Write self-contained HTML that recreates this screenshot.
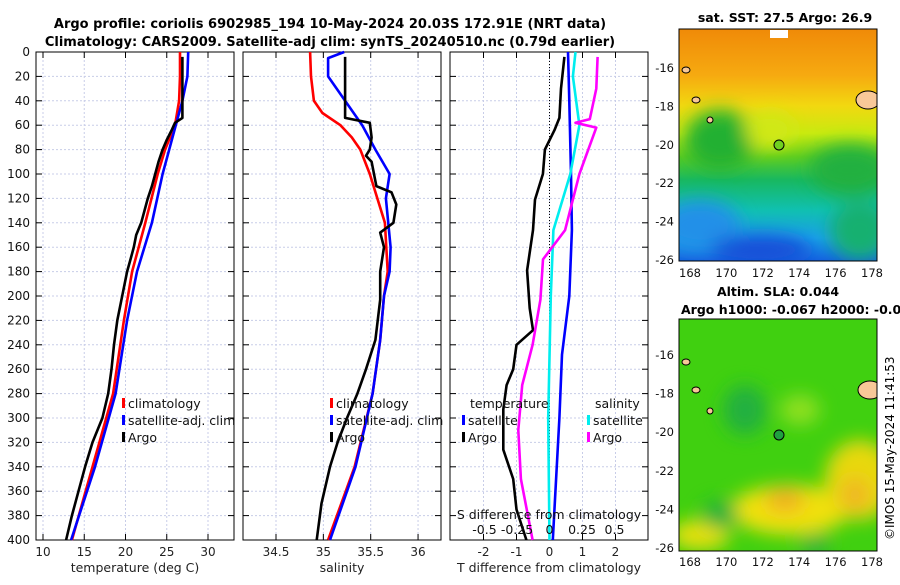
<!DOCTYPE html>
<html><head><meta charset="utf-8"><style>
body{margin:0;background:#fff;width:900px;height:580px;overflow:hidden}
svg{font-family:"DejaVu Sans","Liberation Sans",sans-serif}
</style></head><body>
<svg id="c" width="900" height="580" xmlns="http://www.w3.org/2000/svg">
<defs>
<filter id="bl" x="-50%" y="-50%" width="200%" height="200%"><feGaussianBlur stdDeviation="9"/></filter>
<clipPath id="m1c"><rect x="679" y="29" width="198" height="232"/></clipPath>
<clipPath id="m2c"><rect x="679" y="319" width="198" height="232"/></clipPath>
<linearGradient id="sst" x1="0" y1="0" x2="0" y2="1">
<stop offset="0" stop-color="#f08a08"/><stop offset="0.2" stop-color="#f6aa10"/><stop offset="0.33" stop-color="#f2d810"/>
<stop offset="0.45" stop-color="#c8ea10"/><stop offset="0.55" stop-color="#5ccd20"/><stop offset="0.65" stop-color="#18b860"/>
<stop offset="0.78" stop-color="#10c0b0"/><stop offset="0.9" stop-color="#1aa0e8"/><stop offset="1" stop-color="#1460e0"/>
</linearGradient>
</defs>
<text x="330" y="28" text-anchor="middle" font-weight="bold" font-size="13">Argo profile: coriolis 6902985_194 10-May-2024 20.03S 172.91E (NRT data)</text>
<text x="330" y="46" text-anchor="middle" font-weight="bold" font-size="13">Climatology: CARS2009. Satellite-adj clim: synTS_20240510.nc (0.79d earlier)</text>
<g id="p"></g>
<g clip-path="url(#m1c)">
<rect x="679" y="29" width="198" height="232" fill="url(#sst)"/>
<g filter="url(#bl)">
<ellipse cx="720" cy="140" rx="35" ry="30" fill="#20b030"/>
<ellipse cx="850" cy="170" rx="40" ry="25" fill="#20b040"/>
<ellipse cx="770" cy="130" rx="25" ry="18" fill="#d0e818"/>
<ellipse cx="700" cy="225" rx="40" ry="25" fill="#2090e8"/>
<ellipse cx="760" cy="250" rx="50" ry="15" fill="#1850d8"/>
<ellipse cx="860" cy="230" rx="30" ry="30" fill="#18b070"/>
</g>
<ellipse cx="868" cy="100" rx="12" ry="9" fill="#f8c898" stroke="#000"/>
<ellipse cx="686" cy="70" rx="4" ry="3" fill="#f8c898" stroke="#000"/>
<ellipse cx="696" cy="100" rx="4" ry="3" fill="#f8c898" stroke="#000"/>
<ellipse cx="710" cy="120" rx="3" ry="3" fill="#f8c898" stroke="#000"/>
<rect x="770" y="30" width="18" height="8" fill="#fff"/>
<circle cx="779" cy="145" r="5" fill="#70d020" stroke="#000"/>
</g>
<rect x="679" y="29" width="198" height="232" fill="none" stroke="#000"/>
<g clip-path="url(#m2c)">
<rect x="679" y="319" width="198" height="232" fill="#40d010"/>
<g filter="url(#bl)">
<ellipse cx="790" cy="510" rx="60" ry="25" fill="#f0e010"/>
<ellipse cx="860" cy="480" rx="35" ry="40" fill="#e8d810"/>
<ellipse cx="785" cy="500" rx="20" ry="12" fill="#f0b020"/>
<ellipse cx="855" cy="495" rx="15" ry="18" fill="#f0b820"/>
<ellipse cx="700" cy="535" rx="30" ry="15" fill="#e8e010"/>
<ellipse cx="800" cy="410" rx="20" ry="15" fill="#90e020"/>
<ellipse cx="745" cy="410" rx="22" ry="25" fill="#20b040"/>
<ellipse cx="720" cy="515" rx="18" ry="14" fill="#20b040"/>
<ellipse cx="815" cy="545" rx="15" ry="10" fill="#20b040"/>
</g>
<ellipse cx="870" cy="390" rx="12" ry="9" fill="#f8c898" stroke="#000"/>
<ellipse cx="686" cy="362" rx="4" ry="3" fill="#f8c898" stroke="#000"/>
<ellipse cx="696" cy="390" rx="4" ry="3" fill="#f8c898" stroke="#000"/>
<ellipse cx="710" cy="411" rx="3" ry="3" fill="#f8c898" stroke="#000"/>
<circle cx="779" cy="435" r="5" fill="#20a040" stroke="#000"/>
</g>
<rect x="679" y="319" width="198" height="232" fill="none" stroke="#000"/>
<text x="785" y="22" text-anchor="middle" font-weight="bold" font-size="12.5">sat. SST: 27.5 Argo: 26.9</text>
<text x="778" y="296" text-anchor="middle" font-weight="bold" font-size="12.5">Altim. SLA: 0.044</text>
<text x="681" y="314" font-weight="bold" font-size="12.5">Argo h1000: -0.067 h2000: -0.062</text>
<text transform="translate(894,540) rotate(-90)" font-size="12">©IMOS 15-May-2024 11:41:53</text>
</svg>
<script>
// ---- data ----
const depthTicks=[0,20,40,60,80,100,120,140,160,180,200,220,240,260,280,300,320,340,360,380,400];
const tTicks=[10,15,20,25,30];
const sTicks=[34.5,35,35.5,36];
const dTTicks=[-2,-1,0,1,2];
const dSTickLabels=["-0.5","-0.25","0","0.25","0.5"];
const dSTicks=[-0.5,-0.25,0,0.25,0.5];
const latTicks=[-16,-18,-20,-22,-24,-26];
const lonTicks=[168,170,172,174,176,178];
const tClimD=[0,20,40,60,80,100,140,180,220,280,340,400];
const tClim=[26.6,26.6,26.5,26.0,24.8,23.9,22.4,20.8,19.8,18.5,16.0,13.5];
const tSatD=[0,20,40,60,80,100,140,180,220,280,340,400];
const tSat=[27.6,27.5,26.9,26.1,25.3,24.5,23.2,21.4,20.2,18.8,16.3,13.4];
const tArgoD=[4,20,40,54,58,64,72,80,90,100,110,120,130,140,150,160,170,180,200,220,240,260,280,300,320,340,360,380,400];
const tArgo=[26.9,26.9,26.9,26.9,26.0,25.6,25.0,24.5,24.0,23.6,23.2,22.7,22.3,21.9,21.3,21.0,20.6,20.2,19.6,19.0,18.6,18.3,17.9,17.2,16.0,15.1,14.3,13.5,12.8];
const sClimD=[0,20,40,50,60,70,80,100,140,180,200,236,280,340,400];
const sClim=[34.86,34.87,34.90,34.99,35.18,35.30,35.39,35.49,35.65,35.68,35.64,35.60,35.52,35.33,35.05];
const sSatD=[0,5,20,40,60,80,100,120,160,180,200,236,280,340,400];
const sSat=[35.22,35.05,35.05,35.23,35.41,35.55,35.70,35.66,35.71,35.70,35.64,35.60,35.52,35.34,35.07];
const sArgoD=[4,54,58,70,80,85,90,110,115,125,140,148,160,180,203,236,260,280,300,320,340,370,400];
const sArgo=[35.23,35.23,35.49,35.51,35.49,35.45,35.51,35.56,35.72,35.77,35.74,35.60,35.64,35.60,35.60,35.55,35.45,35.36,35.25,35.15,35.07,34.98,34.93];
const dTSatD=[0,40,100,146,200,248,300,400];
const dTSat=[0.56,0.6,0.65,0.68,0.6,0.38,0.3,0.1];
const dTArgoD=[4,30,54,64,80,100,121,146,179,210,228,240,260,273,293,326,350,375,400];
const dTArgo=[0.45,0.35,0.3,0.15,-0.14,-0.2,-0.44,-0.5,-0.68,-0.6,-0.5,-1.0,-1.1,-1.3,-1.4,-1.4,-1.1,-1.0,-0.7];
const dSSatD=[0,20,60,100,146,200,300,400];
const dSSat=[0.2,0.18,0.23,0.16,0.03,0.01,-0.01,0];
const dSArgoD=[4,30,55,58,62,100,146,170,203,240,273,310,350,400];
const dSArgo=[0.37,0.36,0.31,0.2,0.36,0.23,0.12,-0.05,-0.07,-0.13,-0.21,-0.24,-0.22,-0.13];
// ---- drawing ----
const NS='http://www.w3.org/2000/svg';
const g=document.getElementById('p');
const Y0=52,Y1=540;
const yD=d=>Y0+(d/400)*(Y1-Y0);
function mk(tag,at,parent){const e=document.createElementNS(NS,tag);for(const k in at)e.setAttribute(k,at[k]);(parent||g).appendChild(e);return e;}
function panel(name,x0,x1,ticks,xf,labels,xlabel){
  const grp=mk('g',{});
  
  
  depthTicks.forEach(d=>{const l=mk('line',{x1:x0,x2:x1,y1:yD(d),y2:yD(d),stroke:'#c8cde8','stroke-dasharray':'2,2','stroke-width':1},grp);
    mk('line',{x1:x0,x2:x0+6,y1:yD(d),y2:yD(d),stroke:'#000'},grp);mk('line',{x1:x1-6,x2:x1,y1:yD(d),y2:yD(d),stroke:'#000'},grp);});
  ticks.forEach((t,i)=>{const x=xf(t);const l=mk('line',{x1:x,x2:x,y1:Y0,y2:Y1,stroke:'#c8cde8','stroke-dasharray':'2,2'},grp);
    mk('line',{x1:x,x2:x,y1:Y1,y2:Y1-6,stroke:'#000'},grp);mk('line',{x1:x,x2:x,y1:Y0,y2:Y0+6,stroke:'#000'},grp);
    const tx=mk('text',{x:x,y:556,'text-anchor':'middle','font-size':12,fill:'#222'},grp);tx.textContent=labels[i];});
  mk('rect',{x:x0,y:Y0,width:x1-x0,height:Y1-Y0,fill:'none',stroke:'#000'},grp);
  const xl=mk('text',{x:(x0+x1)/2,y:572,'text-anchor':'middle','font-size':12.5,fill:'#222'},grp);xl.textContent=xlabel;
  
  return grp;
}
function line(name,ds,vs,xf,col,w){const pts=ds.map((d,i)=>xf(vs[i]).toFixed(1)+','+yD(d).toFixed(1)).join(' ');
  const l=mk('polyline',{points:pts,fill:'none',stroke:col,'stroke-width':w||2.6,'stroke-linejoin':'round'});
  }
function txt(name,x,y,s,size,anchor){const t=mk('text',{x:x,y:y,'font-size':size||12.5,'text-anchor':anchor||'start',fill:'#111'});t.textContent=s;}
function key(name,x,y,col,label){const r=mk('rect',{x:x,y:y-10,width:3,height:10,fill:col});txt(name,x+6,y,label);}
const xT=t=>43+(t-10)*8.25;
const xS=s=>276+(s-34.5)*94.7;
const xdT=v=>549.5+v*33;
const xdS=v=>549.5+v*130;
panel('temperature-panel',36,234,tTicks,xT,tTicks.map(String),'temperature (deg C)');
panel('salinity-panel',243,441,sTicks,xS,sTicks.map(String),'salinity');
panel('difference-panel',450,648,dTTicks,xdT,dTTicks.map(String),'T difference from climatology');
depthTicks.forEach(d=>txt('y-tick-label',30,yD(d)+4,String(d),12,'end'));
const zl=mk('line',{x1:549.5,x2:549.5,y1:Y0,y2:Y1,stroke:'#000','stroke-dasharray':'1,2'});
line('temp-climatology',tClimD,tClim,xT,'#f00');
line('temp-satellite-clim',tSatD,tSat,xT,'#00f');
line('temp-argo',tArgoD,tArgo,xT,'#000');
line('sal-climatology',sClimD,sClim,xS,'#f00');
line('sal-satellite-clim',sSatD,sSat,xS,'#00f');
line('sal-argo',sArgoD,sArgo,xS,'#000');
line('dT-satellite',dTSatD,dTSat,xdT,'#00f');
line('dT-argo',dTArgoD,dTArgo,xdT,'#000');
line('dS-satellite',dSSatD,dSSat,xdS,'#0ee');
line('dS-argo',dSArgoD,dSArgo,xdS,'#f0f');
key('legend-t-climatology',122,408,'#f00','climatology');
key('legend-t-satellite',122,425,'#00f','satellite-adj. clim');
key('legend-t-argo',122,442,'#000','Argo');
key('legend-s-climatology',330,408,'#f00','climatology');
key('legend-s-satellite',330,425,'#00f','satellite-adj. clim');
key('legend-s-argo',330,442,'#000','Argo');
txt('legend-temperature-header',470,408,'temperature');
key('legend-dT-satellite',462,425,'#00f','satellite');
key('legend-dT-argo',462,442,'#000','Argo');
txt('legend-salinity-header',595,408,'salinity');
key('legend-dS-satellite',587,425,'#0ee','satellite');
key('legend-dS-argo',587,442,'#f0f','Argo');
txt('s-diff-axis-title',549,519,'S difference from climatology',12.5,'middle');
dSTicks.forEach((v,i)=>txt('s-diff-tick-label',xdS(v),534,dSTickLabels[i],12.5,'middle'));
latTicks.forEach((v,i)=>{txt('sst-lat-label',674,68+i*38.4+4,String(v),11.5,'end');txt('sla-lat-label',674,355+i*38.6+4,String(v),11.5,'end');});
lonTicks.forEach(v=>{const x=690+(v-168)*18.2;txt('sst-lon-label',x,277,String(v),11.5,'middle');txt('sla-lon-label',x,566,String(v),11.5,'middle');});
</script>
</body></html>
